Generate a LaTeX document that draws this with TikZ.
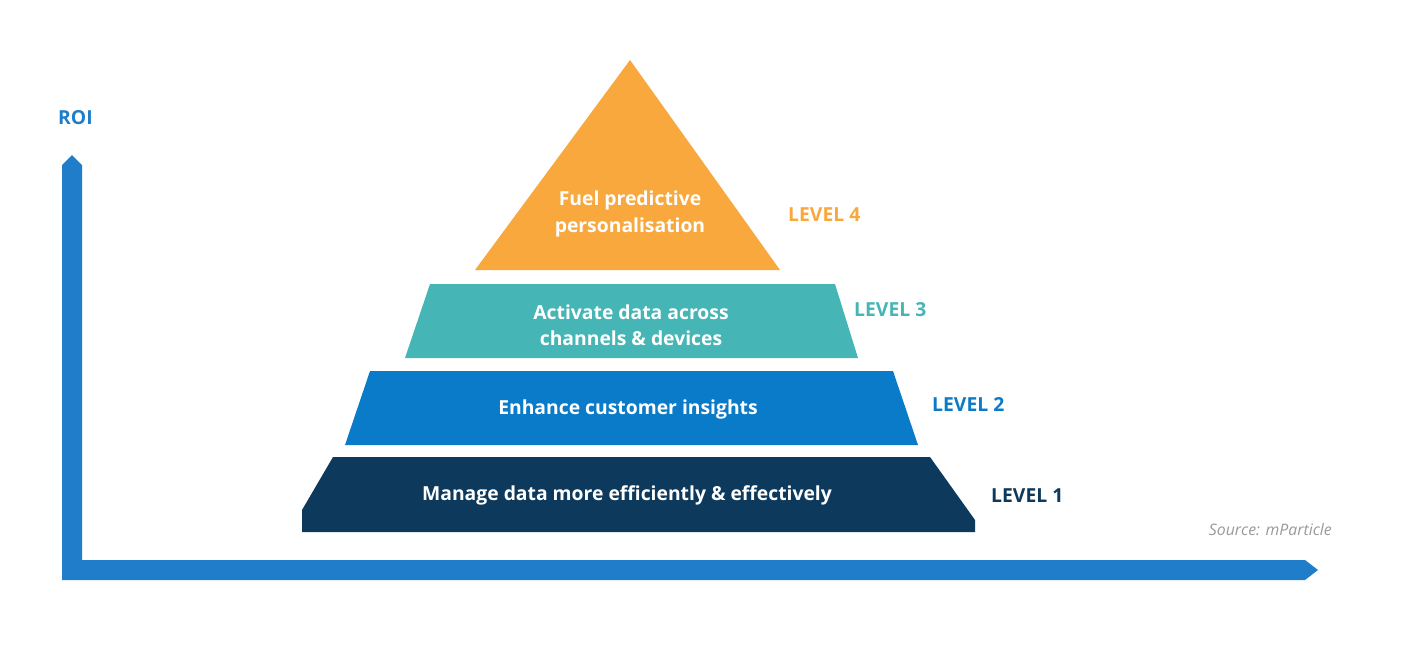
\documentclass[tikz,border=0pt]{standalone}
\usepackage{fontspec}
\setmainfont{Open Sans}
\definecolor{org}{HTML}{F8A83C}
\definecolor{teal}{HTML}{45B5B5}
\definecolor{blu}{HTML}{0A7BC8}
\definecolor{navy}{HTML}{0D3A5C}
\definecolor{axis}{HTML}{1F7DC9}
\begin{document}
\begin{tikzpicture}[x=0.02cm,y=-0.02cm,
  lvl/.style={font=\fontsize{11}{13.5}\selectfont\bfseries,anchor=west},
  inner/.style={font=\fontsize{11}{15}\selectfont\bfseries,text=white,align=center}]
\useasboundingbox (0,0) rectangle (1402,660);
% axes
\fill[axis] (62,580) -- (62,165) -- (72,155) -- (82,165) -- (82,560) -- (1305,560) -- (1318,570) -- (1305,580) -- cycle;
% pyramid
\fill[org] (630,60) -- (780,270) -- (475,270) -- cycle;
\fill[teal] (430,284) -- (835,284) -- (858,358) -- (405,358) -- cycle;
\fill[blu] (370,371) -- (893,371) -- (918,445) -- (345,445) -- cycle;
\fill[navy] (333,457) -- (930,457) -- (975,520) -- (975,532) -- (302,532) -- (302,510) -- cycle;
\node[inner] (t4) at (630,214) {Fuel predictive\\personalisation};
\node[inner] (t3) at (631,325) {Activate data across\\channels \& devices};
\node[inner] (t2) at (628,409) {Enhance customer insights};
\node[inner] (t1) at (627,495) {Manage data more efficiently \& effectively};
\node[lvl,text=org] (l4) at (782,215) {LEVEL 4};
\node[lvl,text=teal] (l3) at (848,310) {LEVEL 3};
\node[lvl,text=blu] (l2) at (926,404) {LEVEL 2};
\node[lvl,text=navy] (l1) at (985,496) {LEVEL 1};
\node[lvl,text=axis] (roi) at (52,118) {ROI};
\node[font=\fontsize{9}{11}\selectfont\itshape,text=gray!80,anchor=east] (src) at (1338,530) {Source: mParticle};
\end{tikzpicture}
\end{document}
